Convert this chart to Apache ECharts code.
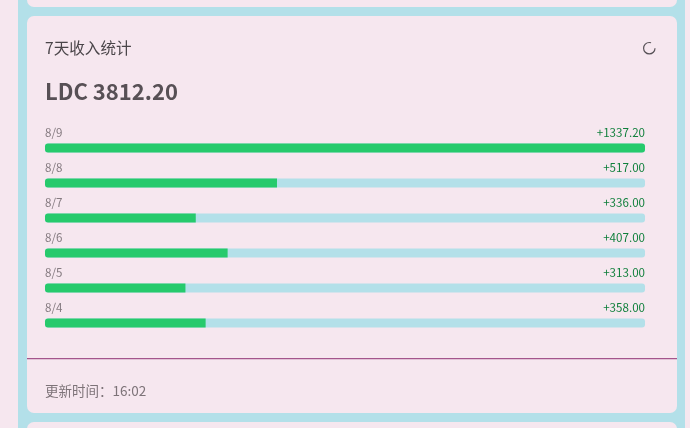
<!DOCTYPE html>
<html><head><meta charset="utf-8">
<style>html,body{margin:0;padding:0;background:#f6e7ef}#c{width:690px;height:428px}</style>
<script src="https://cdn.jsdelivr.net/npm/echarts@6/dist/echarts.min.js"></script>
</head><body><div id="c"></div>
<script>
const categories = ['8/9','8/8','8/7','8/6','8/5','8/4'];
const values = [1337.20,517.00,336.00,407.00,313.00,358.00];
const axisMax = 1337.20;
const titleText = '7天收入统计';
const totalText = 'LDC 3812.20';
const footerText = '更新时间：16:02';
const FONT = '"Noto Sans CJK SC","Noto Sans",sans-serif';
const chart = echarts.init(document.getElementById('c'), null, {renderer:'canvas'});
const card = (y,h) => ({type:'rect',z:-1,shape:{x:27,y:y,width:650,height:h,r:7},style:{fill:'#f6e7ef'}});
chart.setOption({
  animation:false,
  backgroundColor:'#f6e7ef',
  graphic:[
    {type:'rect',z:-2,shape:{x:18,y:-10,width:667,height:450},style:{fill:'#b3e0e9'}},
    card(-30,37),card(16,397),card(422,60),
    {type:'rect',z:-1,shape:{x:27,y:358,width:650,height:1.3},style:{fill:'#a4558c'}},
    {type:'arc',z:-1,shape:{cx:649.3,cy:48.2,r:5.7,startAngle:0,endAngle:Math.PI*1.6,clockwise:true},style:{stroke:'#555055',lineWidth:1.2,fill:null}},
    {type:'text',z:-1,x:45,y:48,style:{text:titleText,fill:'#4a4549',font:'15.6px '+FONT,textVerticalAlign:'middle'}},
    {type:'text',z:-1,x:45,y:92,style:{text:totalText,fill:'#575055',font:'bold 22px '+FONT,textVerticalAlign:'middle'}},
    {type:'text',z:-1,x:45,y:391,style:{text:footerText,fill:'#7d7378',font:'13.5px '+FONT,textVerticalAlign:'middle'}}
  ],
  grid:{left:45,top:130.5,width:600,height:210},
  xAxis:{type:'value',min:0,max:axisMax,show:false},
  yAxis:{type:'category',inverse:true,data:categories,show:false},
  series:[
    {type:'bar',barWidth:9,barGap:'-100%',silent:true,z:2,
      data:values.map(()=>axisMax),
      itemStyle:{color:'#b3e0e9',borderRadius:3},
      label:{show:true,position:'insideTopRight',distance:0,offset:[0,-17],color:'#0f7f3b',fontSize:11.6,fontFamily:FONT,
        formatter:p=>'+'+values[p.dataIndex].toFixed(2)}},
    {type:'bar',barWidth:9,barGap:'-100%',silent:true,z:3,
      data:values.map((v,i)=>({value:v,itemStyle:{borderRadius:v>=axisMax?3:[3,0,0,3]}})),
      itemStyle:{color:'#26ca6c'},
      label:{show:true,position:'insideTopLeft',distance:0,offset:[0,-17],color:'#857b80',fontSize:11.6,fontFamily:FONT,
        formatter:p=>categories[p.dataIndex]}}
  ]
});
</script></body></html>
